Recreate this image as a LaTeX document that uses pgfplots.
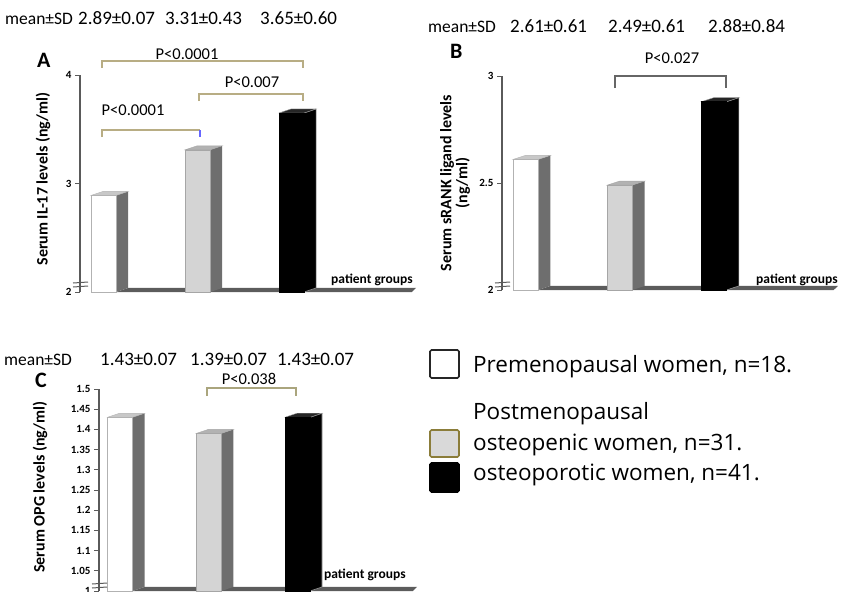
\documentclass[border=0pt]{standalone}
\usepackage{fontspec}
\setmainfont{Carlito}
\newfontfamily\legendfont{Open Sans}
\usepackage{pgfplots}
\pgfplotsset{compat=1.18}
\definecolor{axisgray}{HTML}{5A5A5A}
\definecolor{sidegray}{HTML}{6E6E6E}
\definecolor{floorgray}{HTML}{5C5C5C}
\definecolor{barlight}{HTML}{D4D4D4}
\definecolor{toplight}{HTML}{C8C8C8}
\definecolor{topmid}{HTML}{B2B2B2}
\definecolor{tanline}{HTML}{B8AD84}
\definecolor{tanlineC}{HTML}{AAA57D}
\definecolor{darkbr}{HTML}{666666}
\definecolor{olive}{HTML}{8B7D3A}
\definecolor{legfill}{HTML}{D9D9D9}
\pgfplotsset{
  panel/.style={
    scale only axis, anchor=south west,
    axis y line=left, axis x line=none,
    y axis line style={-, draw=axisgray, line width=1.4pt},
    ytick style={draw=axisgray, line width=1pt},
    tick align=outside, major tick length=5pt,
    yticklabel style={font=\bfseries\fontsize{11}{12}\selectfont, text=black},
    /pgf/number format/assume math mode=true,
    clip mode=individual, xtick=\empty, no markers,
  },
  frontbar/.style={ybar, bar width=25pt, bar shift=0pt},
}
\newcommand{\meanfont}{\fontsize{17.5}{20}\selectfont}
\newcommand{\numfont}{\fontsize{19}{22}\selectfont}
\newcommand{\pfont}{\fontsize{16.5}{19}\selectfont}
\newcommand{\labfont}{\bfseries\fontsize{16}{16}\selectfont}
\newcommand{\pgfont}{\bfseries\fontsize{13.5}{15}\selectfont}
\newcommand{\legfont}{\legendfont\fontsize{22.5}{25}\selectfont}
\begin{document}
\begin{tikzpicture}
\useasboundingbox (0,0) rectangle (844pt,-592pt);

% ---------------- Panel A ----------------
\begin{axis}[panel, at={(80pt,-292pt)}, width=336pt, height=217pt,
  xmin=-0.25, xmax=3.324, ymin=2, ymax=4, ytick={2,3,4}]
  \addplot[fill=floorgray, draw=none] coordinates {(0.133,2) (3.28,2) (3.324,2.037) (0.261,2.037)} -- cycle;
  % white
  \addplot[fill=sidegray, draw=none] coordinates {(0.133,2) (0.261,2.037) (0.261,2.927) (0.133,2.89)} -- cycle;
  \addplot[fill=toplight, draw=gray!60, line width=0.4pt] coordinates {(-0.133,2.89) (0.133,2.89) (0.261,2.927) (-0.005,2.927)} -- cycle;
  \addplot[frontbar, fill=white, draw=gray!60, line width=0.6pt] coordinates {(0,2.89)};
  % gray
  \addplot[fill=sidegray, draw=none] coordinates {(1.133,2) (1.261,2.037) (1.261,3.347) (1.133,3.31)} -- cycle;
  \addplot[fill=topmid, draw=gray!70, line width=0.4pt] coordinates {(0.867,3.31) (1.133,3.31) (1.261,3.347) (0.995,3.347)} -- cycle;
  \addplot[frontbar, fill=barlight, draw=gray!70, line width=0.6pt] coordinates {(1,3.31)};
  % black
  \addplot[fill=black, draw=gray!80, line width=0.6pt] coordinates {(2.133,2) (2.261,2.037) (2.261,3.687) (2.133,3.65)} -- cycle;
  \addplot[fill=black!85, draw=gray!80, line width=0.4pt] coordinates {(1.867,3.65) (2.133,3.65) (2.261,3.687) (1.995,3.687)} -- cycle;
  \addplot[frontbar, fill=black, draw=black] coordinates {(2,3.65)};
\end{axis}

% ---------------- Panel B ----------------
\begin{axis}[panel, at={(502pt,-290pt)}, width=336pt, height=214pt,
  xmin=-0.249, xmax=3.316, ymin=2, ymax=3, ytick={2,2.5,3}]
  \addplot[fill=floorgray, draw=none] coordinates {(0.133,2) (3.27,2) (3.316,2.019) (0.265,2.019)} -- cycle;
  \addplot[fill=sidegray, draw=none] coordinates {(0.133,2) (0.265,2.019) (0.265,2.629) (0.133,2.61)} -- cycle;
  \addplot[fill=toplight, draw=gray!60, line width=0.4pt] coordinates {(-0.133,2.61) (0.133,2.61) (0.265,2.629) (0,2.629)} -- cycle;
  \addplot[frontbar, fill=white, draw=gray!60, line width=0.6pt] coordinates {(0,2.61)};
  \addplot[fill=sidegray, draw=none] coordinates {(1.133,2) (1.265,2.019) (1.265,2.509) (1.133,2.49)} -- cycle;
  \addplot[fill=topmid, draw=gray!70, line width=0.4pt] coordinates {(0.867,2.49) (1.133,2.49) (1.265,2.509) (1.0,2.509)} -- cycle;
  \addplot[frontbar, fill=barlight, draw=gray!70, line width=0.6pt] coordinates {(1,2.49)};
  \addplot[fill=black, draw=gray!80, line width=0.6pt] coordinates {(2.133,2) (2.265,2.019) (2.265,2.899) (2.133,2.88)} -- cycle;
  \addplot[fill=black!85, draw=gray!80, line width=0.4pt] coordinates {(1.867,2.88) (2.133,2.88) (2.265,2.899) (2.0,2.899)} -- cycle;
  \addplot[frontbar, fill=black, draw=black] coordinates {(2,2.88)};
\end{axis}

% ---------------- Panel C ----------------
\begin{axis}[panel, at={(99pt,-591pt)}, width=318pt, height=202pt,
  xmin=-0.237, xmax=3.346, ymin=1, ymax=1.5,
  ytick={1,1.05,1.1,1.15,1.2,1.25,1.3,1.35,1.4,1.45,1.5}]
  \addplot[fill=floorgray, draw=none] coordinates {(0.141,1) (3.30,1) (3.346,1.01) (0.276,1.01)} -- cycle;
  \addplot[fill=sidegray, draw=none] coordinates {(0.141,1) (0.276,1.01) (0.276,1.44) (0.141,1.43)} -- cycle;
  \addplot[fill=toplight, draw=gray!60, line width=0.4pt] coordinates {(-0.141,1.43) (0.141,1.43) (0.276,1.44) (-0.006,1.44)} -- cycle;
  \addplot[frontbar, fill=white, draw=gray!60, line width=0.6pt] coordinates {(0,1.43)};
  \addplot[fill=sidegray, draw=none] coordinates {(1.141,1) (1.276,1.01) (1.276,1.40) (1.141,1.39)} -- cycle;
  \addplot[fill=topmid, draw=gray!70, line width=0.4pt] coordinates {(0.859,1.39) (1.141,1.39) (1.276,1.40) (0.994,1.40)} -- cycle;
  \addplot[frontbar, fill=barlight, draw=gray!70, line width=0.6pt] coordinates {(1,1.39)};
  \addplot[fill=black, draw=gray!80, line width=0.6pt] coordinates {(2.141,1) (2.276,1.01) (2.276,1.44) (2.141,1.43)} -- cycle;
  \addplot[fill=black!85, draw=gray!80, line width=0.4pt] coordinates {(1.859,1.43) (2.141,1.43) (2.276,1.44) (1.994,1.44)} -- cycle;
  \addplot[frontbar, fill=black, draw=black] coordinates {(2,1.43)};
\end{axis}

\begin{scope}[x=1pt, y=-1pt]
  % ---- Panel A annotations
  \node[anchor=base west, inner sep=0, font=\meanfont] at (5,24) {mean±SD};
  \node[anchor=base west, inner sep=0, font=\numfont] at (78,24) {2.89±0.07};
  \node[anchor=base west, inner sep=0, font=\numfont] at (165,24) {3.31±0.43};
  \node[anchor=base west, inner sep=0, font=\numfont] at (260,24) {3.65±0.60};
  \node[anchor=base west, inner sep=0, font=\bfseries\fontsize{22}{24}\selectfont] at (37,67) {A};
  \node[rotate=90, inner sep=0, font=\labfont] at (43,179) {Serum IL-17 levels (ng/ml)};
  \draw[tanline, line width=1.3pt] (102,68) -- (102,61) -- (303,61) -- (303,68);
  \node[anchor=base, inner sep=0, font=\pfont] at (187,59) {P<0.0001};
  \draw[tanline, line width=1.3pt] (199,101) -- (199,94) -- (303,94) -- (303,101);
  \node[anchor=base, inner sep=0, font=\pfont] at (252,87) {P<0.007};
  \draw[tanline, line width=1.3pt] (102,137) -- (102,130) -- (200,130);
  \draw[blue!60, line width=1.1pt] (200,130) -- (200,137);
  \node[anchor=base, inner sep=0, font=\pfont] at (133,115) {P<0.0001};
  \node[anchor=base west, inner sep=0, font=\pgfont] at (331,283) {patient groups};
  \draw[axisgray, line width=1pt] (73,283) -- (88,282) (73,287) -- (88,286);

  % ---- Panel B annotations
  \node[anchor=base west, inner sep=0, font=\meanfont] at (428,32) {mean±SD};
  \node[anchor=base west, inner sep=0, font=\numfont] at (510,32) {2.61±0.61};
  \node[anchor=base west, inner sep=0, font=\numfont] at (608,32) {2.49±0.61};
  \node[anchor=base west, inner sep=0, font=\numfont] at (708,32) {2.88±0.84};
  \node[anchor=base west, inner sep=0, font=\bfseries\fontsize{22}{24}\selectfont] at (450,58) {B};
  \node[rotate=90, inner sep=0, align=center, font=\labfont] at (455,183) {Serum sRANK ligand levels\\(ng/ml)};
  \draw[darkbr, line width=1.3pt] (615,88) -- (615,76) -- (726,76) -- (726,88);
  \node[anchor=base, inner sep=0, font=\pfont] at (672,63) {P<0.027};
  \node[anchor=base west, inner sep=0, font=\pgfont] at (756,283) {patient groups};
  \draw[axisgray, line width=1pt] (495,283) -- (510,282) (495,287) -- (510,286);

  % ---- Panel C annotations
  \node[anchor=base west, inner sep=0, font=\meanfont] at (4,365) {mean±SD};
  \node[anchor=base west, inner sep=0, font=\numfont] at (100,365) {1.43±0.07};
  \node[anchor=base west, inner sep=0, font=\numfont] at (190,365) {1.39±0.07};
  \node[anchor=base west, inner sep=0, font=\numfont] at (277,365) {1.43±0.07};
  \node[anchor=base west, inner sep=0, font=\bfseries\fontsize{22}{24}\selectfont] at (35,387) {C};
  \node[rotate=90, inner sep=0, font=\labfont] at (40,487) {Serum OPG levels (ng/ml)};
  \draw[tanlineC, line width=1.3pt] (207,396) -- (207,388) -- (296,388) -- (296,396);
  \node[anchor=base, inner sep=0, font=\pfont] at (249,384) {P<0.038};
  \node[anchor=base west, inner sep=0, font=\pgfont] at (324,578) {patient groups};
  \draw[axisgray, line width=1pt] (92,584) -- (107,583) (92,588) -- (107,587);

  % ---- Legend
  \draw[black!85, line width=1.6pt, rounded corners=1.5pt, fill=white] (430,350) rectangle (459,378);
  \draw[olive, line width=1.6pt, rounded corners=1.5pt, fill=legfill] (430,430) rectangle (459,457);
  \draw[black, line width=1.6pt, rounded corners=1.5pt, fill=black] (430,463) rectangle (459,492);
  \node[anchor=base west, inner sep=0, font=\legfont] at (473,372) {Premenopausal women, n=18.};
  \node[anchor=base west, inner sep=0, font=\legfont] at (473,419) {Postmenopausal};
  \node[anchor=base west, inner sep=0, font=\legfont] at (473,450) {osteopenic women, n=31.};
  \node[anchor=base west, inner sep=0, font=\legfont] at (473,480) {osteoporotic women, n=41.};
\end{scope}
\end{tikzpicture}
\end{document}
